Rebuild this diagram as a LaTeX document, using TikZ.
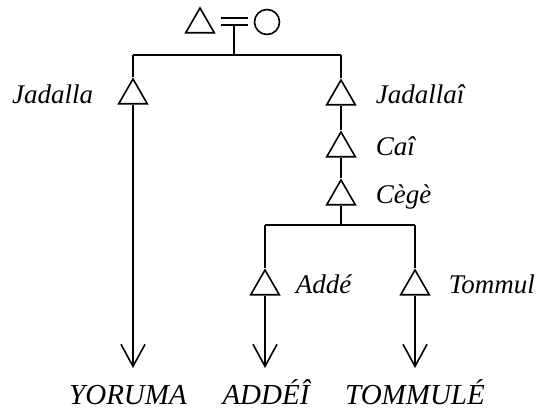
\documentclass[tikz,border=0pt]{standalone}
\usepackage{fontspec}
\setmainfont{Liberation Serif}
\usetikzlibrary{shapes.geometric,arrows.meta}
\begin{document}
\begin{tikzpicture}[x=1pt,y=-1pt,line width=1.6pt,
  tri/.style={regular polygon,regular polygon sides=3,draw,minimum size=33pt,inner sep=0pt,line width=1.6pt},
  lab/.style={font=\fontsize{27}{29}\selectfont\itshape,inner sep=0pt},
  blab/.style={font=\fontsize{29}{31}\selectfont\itshape,inner sep=0pt,anchor=base},
  arr/.style={-{Straight Barb[length=22pt,width=24pt,line width=1.6pt]}}]
\useasboundingbox (0,0) rectangle (545,410);
% marriage
\node[tri] (t0) at (200,24.5) {};
\node[circle,draw,minimum size=25pt,inner sep=0pt,line width=1.6pt] (c0) at (267,22) {};
\coordinate (e1a) at (221,18); \coordinate (e1b) at (248,18);
\coordinate (e2a) at (221,25); \coordinate (e2b) at (248,25);
\draw (e1a) -- (e1b);
\draw (e2a) -- (e2b);
\coordinate (m) at (234,25);
\coordinate (mj) at (234,55);
\draw (m) -- (mj);
\coordinate (hl) at (133,55);
\coordinate (hr) at (341,55);
\draw (hl) -- (hr);
% left branch
\node[tri] (ja) at (133,95.5) {};
\node[lab,anchor=base east] (jal) at (94,103) {Jadalla};
\coordinate (yor) at (133,368);
\draw (hl) -- (ja.corner 1);
\draw[arr] (ja.side 2) -- (yor);
\node[blab] (yorl) at (128,404) {YORUMA};
% right branch
\node[tri] (jai) at (341,96.5) {};
\node[tri] (cai) at (341,148.5) {};
\node[tri] (ceg) at (341,196.5) {};
\node[lab,anchor=base west] (jail) at (375,103) {Jadallaî};
\node[lab,anchor=base west] (cail) at (375,155) {Caî};
\node[lab,anchor=base west] (cegl) at (375,203) {Cègè};
\draw (hr) -- (jai.corner 1);
\draw (jai.side 2) -- (cai.corner 1);
\draw (cai.side 2) -- (ceg.corner 1);
\coordinate (bj) at (341,225);
\coordinate (bl) at (265,225);
\coordinate (br) at (415,225);
\draw (ceg.side 2) -- (bj);
\draw (bl) -- (br);
\node[tri] (add) at (265,286.5) {};
\node[tri] (tom) at (415,286.5) {};
\node[lab,anchor=base west] (addl) at (295,293) {Addé};
\node[lab,anchor=base west] (toml) at (448,293) {Tommul};
\draw (bl) -- (add.corner 1);
\draw (br) -- (tom.corner 1);
\coordinate (adda) at (265,368);
\coordinate (toma) at (415,368);
\draw[arr] (add.side 2) -- (adda);
\draw[arr] (tom.side 2) -- (toma);
\node[blab] (addel) at (266,404) {ADDÉÎ};
\node[blab] (tomel) at (415,404) {TOMMULÉ};
\end{tikzpicture}
\end{document}
